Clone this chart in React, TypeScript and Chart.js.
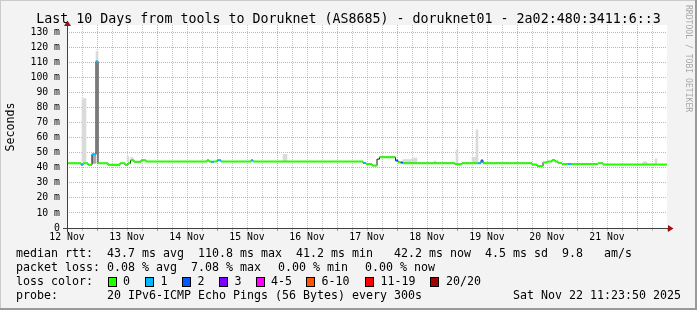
import React, { useEffect, useRef } from "react";
import { Chart, registerables } from "chart.js";

Chart.register(...registerables);

const TITLE = "Last 10 Days from tools to Doruknet (AS8685) - doruknet01 - 2a02:480:3411:6::3";
const Y_TITLE = "Seconds";
const WATERMARK = "RRDTOOL / TOBI OETIKER";

// x axis: hours since 12 Nov 00:00
const DAY_LABELS = ["12 Nov", "13 Nov", "14 Nov", "15 Nov", "16 Nov", "17 Nov", "18 Nov", "19 Nov", "20 Nov", "21 Nov"];
const X_MIN = 12;
const X_MAX = 252;
const Y_MAX = 135;

// median rtt (ms): run start time (h), value, loss class (-1 = no colour)
const medianStart = [12.0, 17.6, 18.4, 20.4, 22.0, 23.6, 24.4, 28.4, 33.2, 35.2, 36.4, 37.4, 38.8, 41.6, 43.6, 68.0, 68.8, 69.6, 70.8, 72.0, 73.6, 85.6, 86.4, 130.4, 131.6, 134.0, 136.0, 137.0, 143.4, 144.4, 145.4, 146.4, 167.2, 170.0, 176.4, 177.6, 178.4, 198.0, 200.0, 202.4, 204.0, 206.0, 207.2, 208.4, 210.0, 212.4, 213.6, 224.4, 226.4];
const medianValue = [43.0, 42.0, 43.0, 42.0, 49.0, 110.8, 43.0, 42.0, 43.0, 42.0, 43.0, 45.0, 44.0, 45.0, 44.2, 45.0, 44.2, 44.0, 44.2, 45.0, 44.2, 45.0, 44.2, 43.3, 42.5, 41.5, 45.8, 47.1, 44.9, 43.8, 43.5, 43.1, 42.4, 43.1, 43.1, 44.9, 43.1, 42.2, 41.2, 43.6, 44.2, 45.3, 44.2, 43.2, 42.5, 42.5, 42.5, 43.0, 42.2];
const medianLoss = [0, 1, 0, 0, 1, 1, 0, 0, 0, 0, 0, 0, 0, 0, 0, 0, 0, 1, 0, 1, 0, 1, 0, 1, 0, 0, -1, 0, 2, 0, 2, 0, 0, 0, 1, 2, 0, 0, 0, 0, 0, 0, 0, 0, 0, 1, 0, 0, 0];

// smoke (ping spread): time (h), low, high (ms), shade (0 light, 1 dark)
const smokeTime = [18.4, 19.2, 22.4, 23.2, 24.0, 36.4, 38.0, 98.8, 99.6, 146.8, 147.6, 148.4, 149.2, 150.0, 150.8, 151.6, 159.2, 168.0, 174.4, 175.2, 176.0, 242.8, 243.6, 247.6];
const smokeLow = [44, 44, 43, 43, 49, 44, 45, 44, 44, 43.5, 43.5, 43.5, 43.5, 43.5, 43.5, 43.5, 43, 43, 43, 43, 43, 42.3, 42.3, 42.3];
const smokeHigh = [86, 86, 49, 49, 117.5, 47.5, 47, 49, 49, 45.5, 45.5, 45.5, 45.5, 46, 46.5, 46.5, 44.5, 52, 47, 47, 65.3, 44, 44, 46];
const smokeShade = [0, 0, 1, 1, 0, 0, 0, 0, 0, 0, 0, 0, 0, 0, 0, 0, 0, 0, 0, 0, 0, 0, 0, 0];

const LOSS_COLORS = ["#26ff00", "#00b8ff", "#0059ff", "#7e00ff", "#ff00ff", "#ff5500", "#ff0000", "#a10000"];
const LOSS_LABELS = ["0", "1", "2", "3", "4-5", "6-10", "11-19", "20/20"];

const RTT_LEGEND = ["median rtt:", "43.7 ms avg", "110.8 ms max", "41.2 ms min", "42.2 ms now", "4.5 ms sd", "9.8", "am/s"];
const LOSS_LEGEND = ["packet loss:", "0.08 % avg", "7.08 % max", "0.00 % min", "0.00 % now"];
const COLOR_LEGEND_TITLE = "loss color:";
const PROBE_LEGEND = ["probe:", "20 IPv6-ICMP Echo Pings (56 Bytes) every 300s", "Sat Nov 22 11:23:50 2025"];

const MONO = "'DejaVu Sans Mono', monospace";

const RTT_X = [16, 107, 198, 296, 394, 485, 562, 604];
const LOSS_X = [16, 107, 191, 278, 365];
const BOX_X = [108.5, 145.5, 182.5, 219.5, 256.5, 306.5, 365.5, 430.5];
const BOX_LABEL_X = [123, 160.5, 197.5, 234.5, 271, 321.5, 380.5, 446];

const MAJOR_GRID = "rgba(225,100,100,0.6)";
const MINOR_GRID = "rgba(140,140,140,0.5)";

function buildRuns(cls: number) {
  const pts: any[] = [];
  for (let i = 0; i < medianStart.length; i++) {
    if (medianLoss[i] !== cls) continue;
    const end = i + 1 < medianStart.length ? medianStart[i + 1] : X_MAX;
    pts.push({ x: medianStart[i], y: medianValue[i] });
    pts.push({ x: end, y: medianValue[i] });
    pts.push({ x: end, y: null });
  }
  return pts;
}

const decor = {
  id: "rrdDecor",
  beforeDraw(chart: any) {
    const { ctx, chartArea: a } = chart;
    ctx.save();
    ctx.fillStyle = "#f3f3f3";
    ctx.fillRect(0, 0, chart.width, chart.height);
    ctx.fillStyle = "#ffffff";
    ctx.fillRect(a.left, a.top, a.right - a.left, a.bottom - a.top);
    ctx.restore();
  },
  afterDraw(chart: any) {
    const { ctx, chartArea: a } = chart;
    ctx.save();
    // axes
    ctx.strokeStyle = "#404040";
    ctx.lineWidth = 1;
    ctx.beginPath();
    ctx.moveTo(a.left - 4, a.bottom + 0.5);
    ctx.lineTo(a.right + 2, a.bottom + 0.5);
    ctx.moveTo(a.left + 0.5, a.bottom + 4);
    ctx.lineTo(a.left + 0.5, a.top - 1);
    ctx.stroke();
    ctx.fillStyle = "#a01010";
    ctx.beginPath();
    ctx.moveTo(a.right + 1, a.bottom + 0.5 - 3.5);
    ctx.lineTo(a.right + 6.5, a.bottom + 0.5);
    ctx.lineTo(a.right + 1, a.bottom + 0.5 + 3.5);
    ctx.closePath();
    ctx.fill();
    ctx.beginPath();
    ctx.moveTo(a.left + 0.5 - 3.5, a.top + 1);
    ctx.lineTo(a.left + 0.5, a.top - 4.5);
    ctx.lineTo(a.left + 0.5 + 3.5, a.top + 1);
    ctx.closePath();
    ctx.fill();

    // title
    ctx.fillStyle = "#000";
    ctx.font = `13.3px ${MONO}`;
    ctx.textAlign = "center";
    ctx.textBaseline = "alphabetic";
    ctx.fillText(TITLE, chart.width / 2, 23);

    // y title
    ctx.save();
    ctx.translate(11, 127);
    ctx.rotate(-Math.PI / 2);
    ctx.font = `11.6px ${MONO}`;
    ctx.textAlign = "center";
    ctx.textBaseline = "middle";
    ctx.fillText(Y_TITLE, 0, 0);
    ctx.restore();

    // watermark
    ctx.save();
    ctx.translate(688.5, 5);
    ctx.rotate(Math.PI / 2);
    ctx.font = `8.1px ${MONO}`;
    ctx.fillStyle = "#a8a8a8";
    ctx.textAlign = "left";
    ctx.textBaseline = "middle";
    ctx.fillText(WATERMARK, 0, 0);
    ctx.restore();

    // legend
    ctx.font = `11.63px ${MONO}`;
    ctx.fillStyle = "#000";
    ctx.textAlign = "left";
    ctx.textBaseline = "middle";
    RTT_LEGEND.forEach((t, i) => ctx.fillText(t, RTT_X[i], 254));
    LOSS_LEGEND.forEach((t, i) => ctx.fillText(t, LOSS_X[i], 268));
    ctx.fillText(COLOR_LEGEND_TITLE, 16, 282);
    LOSS_LABELS.forEach((t, i) => {
      ctx.fillStyle = LOSS_COLORS[i];
      ctx.fillRect(BOX_X[i], 277.5, 8, 9);
      ctx.strokeStyle = "#000";
      ctx.strokeRect(BOX_X[i], 277.5, 8, 9);
      ctx.fillStyle = "#000";
      ctx.fillText(t, BOX_LABEL_X[i], 282);
    });
    ctx.fillText(PROBE_LEGEND[0], 16, 296);
    ctx.fillText(PROBE_LEGEND[1], 107, 296);
    ctx.textAlign = "right";
    ctx.fillText(PROBE_LEGEND[2], 681, 296);

    // frame
    ctx.fillStyle = "#cbcbcb";
    ctx.fillRect(0, 0, chart.width, 1);
    ctx.fillRect(0, 0, 1, chart.height);
    ctx.fillStyle = "#999999";
    ctx.fillRect(0, chart.height - 2, chart.width, 2);
    ctx.fillRect(chart.width - 2, 0, 2, chart.height);
    ctx.restore();
  },
};

export default function App() {
  const ref = useRef<HTMLCanvasElement>(null);
  useEffect(() => {
    document.body.style.margin = "0";
    const canvas = ref.current!;
    const classes = Array.from(new Set(medianLoss.filter((c) => c >= 0)));
    const lossSets = classes.map((c) => ({
      type: "line" as const,
      data: buildRuns(c),
      borderColor: LOSS_COLORS[c],
      borderWidth: 2,
      pointRadius: 0,
      spanGaps: false,
      borderCapStyle: "butt" as const,
      order: 1,
    }));
    const basePts = medianStart.map((t, i) => ({ x: t, y: medianValue[i] }));
    basePts.push({ x: X_MAX, y: medianValue[medianValue.length - 1] });

    const chart = new Chart(canvas, {
      type: "line",
      data: {
        datasets: [
          {
            type: "bar",
            data: smokeTime.map((t, i) => ({ x: t, y: [smokeLow[i], smokeHigh[i]] })),
            backgroundColor: smokeShade.map((s) => (s === 1 ? "#a8a8a8" : "#dadada")),
            borderWidth: 0,
            barThickness: 2,
            grouped: false,
            order: 3,
          } as any,
          {
            type: "line",
            data: basePts,
            borderColor: "#1a1a1a",
            borderWidth: 1,
            stepped: "before",
            pointRadius: 0,
            order: 2,
          } as any,
          ...lossSets,
        ],
      },
      options: {
        animation: false,
        responsive: false,
        devicePixelRatio: 1,
        events: [],
        layout: { padding: { left: 0, right: 30, top: 25, bottom: 62 } },
        plugins: { legend: { display: false }, tooltip: { enabled: false }, title: { display: false } },
        scales: {
          x: {
            type: "linear",
            min: X_MIN,
            max: X_MAX,
            offset: false,
            afterFit: (s: any) => {
              s.height = 20;
            },
            afterBuildTicks: (s: any) => {
              const t = [];
              for (let v = X_MIN; v <= X_MAX; v += 6) t.push({ value: v });
              s.ticks = t;
            },
            ticks: {
              autoSkip: false,
              maxRotation: 0,
              minRotation: 0,
              padding: 1,
              color: "#000",
              font: { family: MONO, size: 9.8 },
              callback: (v: any) => {
                const n = Number(v);
                if ((n - 12) % 24 === 0 && n < X_MAX) return DAY_LABELS[(n - 12) / 24];
                return "";
              },
            },
            grid: {
              offset: false,
              drawTicks: true,
              tickLength: 3,
              color: (c: any) => {
                const v = c.tick ? c.tick.value : 0;
                if (v === X_MIN || v === X_MAX) return "rgba(0,0,0,0)";
                return v % 24 === 0 ? MAJOR_GRID : MINOR_GRID;
              },
              tickColor: (c: any) => {
                const v = c.tick ? c.tick.value : 0;
                return v % 24 === 0 ? "rgba(230,90,90,0.8)" : "rgba(160,160,160,0.7)";
              },
            },
            border: { display: false, dash: [1, 1] },
          },
          y: {
            type: "linear",
            min: 0,
            max: Y_MAX,
            afterFit: (s: any) => {
              s.width = 67;
            },
            afterBuildTicks: (s: any) => {
              const t = [];
              for (let v = 0; v <= Y_MAX; v += 5) t.push({ value: v });
              s.ticks = t;
            },
            ticks: {
              padding: 7,
              color: "#000",
              font: { family: MONO, size: 9.8 },
              callback: (v: any) => {
                const n = Number(v);
                if (n % 10 !== 0) return "";
                return n === 0 ? "0" : `${n} m`;
              },
            },
            grid: {
              drawTicks: false,
              color: (c: any) => {
                const v = c.tick ? c.tick.value : 0;
                if (v === 0) return "rgba(0,0,0,0)";
                return v % 10 === 0 ? MAJOR_GRID : MINOR_GRID;
              },
            },
            border: { display: false, dash: [1, 1] },
          },
        },
      } as any,
      plugins: [decor],
    });
    return () => chart.destroy();
  }, []);
  return (
    <div style={{ width: 697, height: 310 }}>
      <canvas ref={ref} width={697} height={310} style={{ display: "block", width: 697, height: 310 }} />
    </div>
  );
}
